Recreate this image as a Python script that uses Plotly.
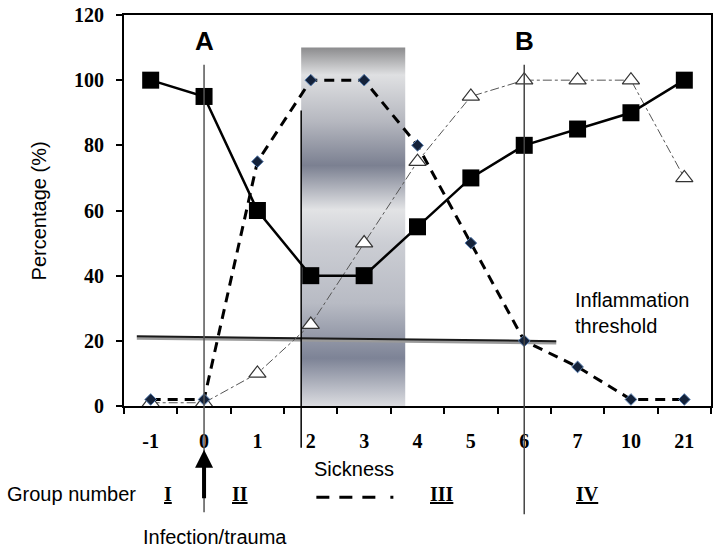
import plotly.graph_objects as go

# =============================================================================
# DATA
# =============================================================================

days = ["-1", "0", "1", "2", "3", "4", "5", "6", "7", "10", "21"]

square_vals = [100, 95, 60, 40, 40, 55, 70, 80, 85, 90, 100]
diamond_vals = [2, 2, 75, 100, 100, 80, 50, 20, 12, 2, 2]
triangle_vals = [1, 1, 10, 25, 50, 75, 95, 100, 100, 100, 70]

y_ticks = [0, 20, 40, 60, 80, 100, 120]

# gray "sickness" band and threshold line (axis units, x = category index)
band_x = [2.82, 4.77]
band_y = [-2, 110]
threshold_x = [-0.26, 7.6]
threshold_y = [21.4, 19.9]

xi = list(range(len(days)))

SERIF = "Liberation Serif"
SANS = "Liberation Sans"

# =============================================================================
# FIGURE
# =============================================================================

fig = go.Figure()

# gradient band
band_scale = [
    [0.0, "#e2e3e6"], [0.025, "#dcdde1"], [0.156, "#7d8396"],
    [0.306, "#b8bbc4"], [0.47, "#ccced4"], [0.56, "#e2e3e5"],
    [0.68, "#7b8091"], [0.798, "#b5b7bf"], [0.926, "#dfe0e2"],
    [1.0, "#8c8c8e"],
]
fig.add_trace(go.Scatter(
    x=[band_x[0], band_x[1], band_x[1], band_x[0], band_x[0]],
    y=[band_y[0], band_y[0], band_y[1], band_y[1], band_y[0]],
    mode="lines", fill="toself", line=dict(width=0),
    fillgradient=dict(type="vertical", colorscale=band_scale,
                      start=band_y[0], stop=band_y[1]),
    hoverinfo="skip", showlegend=False,
))

# threshold line with a soft shadow
fig.add_trace(go.Scatter(x=threshold_x, y=[v - 0.6 for v in threshold_y], mode="lines",
                         line=dict(color="#9a9a9a", width=3), hoverinfo="skip", showlegend=False))
fig.add_trace(go.Scatter(x=threshold_x, y=threshold_y, mode="lines",
                         line=dict(color="#1a1a1a", width=2), hoverinfo="skip", showlegend=False))

fig.add_trace(go.Scatter(
    x=xi, y=triangle_vals, mode="lines+markers",
    line=dict(color="#555555", width=1, dash="dashdot"),
    marker=dict(symbol="triangle-up", size=15, color="white",
                line=dict(color="#333333", width=1.2)),
    showlegend=False,
))

fig.add_trace(go.Scatter(
    x=xi, y=diamond_vals, mode="lines+markers",
    line=dict(color="black", width=3, dash="10px,7px"),
    marker=dict(symbol="diamond", size=9, color="#14223a",
                line=dict(color="#5a7fb0", width=1)),
    showlegend=False,
))

fig.add_trace(go.Scatter(
    x=xi, y=square_vals, mode="lines+markers",
    line=dict(color="black", width=2.5),
    marker=dict(symbol="square", size=17, color="black"),
    showlegend=False,
))

# vertical marker lines A / band edge / B
fig.add_shape(type="line", xref="x", yref="paper", x0=1, x1=1, y0=0.873, y1=-0.272,
              line=dict(color="#555555", width=1.5))
fig.add_shape(type="line", xref="x", yref="paper", x0=band_x[0], x1=band_x[0], y0=0.756, y1=-0.107,
              line=dict(color="black", width=1.5))
fig.add_shape(type="line", xref="x", yref="paper", x0=7, x1=7, y0=0.873, y1=-0.277,
              line=dict(color="#444444", width=1.5))

# group dashes between II and III
fig.add_shape(type="line", xref="paper", yref="paper", x0=0.3277, x1=0.4635, y0=-0.2335, y1=-0.2335,
              line=dict(color="black", width=3, dash="13px,10px,13px,10px,13px,15px,3px"))

# arrow for infection/trauma
fig.add_annotation(x=1, y=-0.1117, xref="x", yref="paper", text="", showarrow=True,
                   ax=0, ay=50, arrowhead=2, arrowsize=0.9, arrowwidth=4, arrowcolor="black")


def label(x, y, text, xref="paper", size=20, family=SANS, xanchor="center", **kw):
    fig.add_annotation(x=x, y=y, xref=xref, yref="paper", text=text, showarrow=False,
                       xanchor=xanchor, yanchor="middle",
                       font=dict(family=family, size=size, color="black"), **kw)


label(1, 0.934, "<b>A</b>", xref="x", size=26)
label(7, 0.934, "<b>B</b>", xref="x", size=26)
label(-0.145, 0.5, "Percentage (%)", textangle=-90)
label(0.392, -0.162, "Sickness")
label(-0.202, -0.226, "Group number", xanchor="left")
label(0.1545, -0.335, "Infection/trauma")
label(0.7657, 0.2386, "Inflammation<br>threshold", xanchor="left", align="left")

groups = ["I", "II", "III", "IV"]
group_pos = [0.0747, 0.197, 0.5416, 0.789]
for g, px in zip(groups, group_pos):
    label(px, -0.226, f"<b><u>{g}</u></b>", family=SERIF)

fig.update_layout(
    width=717, height=547,
    margin=dict(l=124, r=4, t=12, b=141),
    plot_bgcolor="white", paper_bgcolor="white",
    showlegend=False,
)

fig.update_xaxes(
    range=[-0.5, 10.5], tickmode="array", tickvals=xi, ticktext=days,
    ticks="", showgrid=False, zeroline=False,
    showline=True, linecolor="black", linewidth=2, mirror=True,
    tickfont=dict(family=SERIF, size=20, color="black", weight="bold"),
    ticklabelstandoff=16,
    minor=dict(tickmode="array", tickvals=[v - 0.5 for v in xi] + [10.5],
               ticks="outside", ticklen=6, tickwidth=1.5, tickcolor="black"),
)
fig.update_yaxes(
    range=[0, 120], tickmode="array", tickvals=y_ticks,
    ticks="outside", ticklen=6, tickwidth=1.5, tickcolor="black",
    showgrid=False, zeroline=False,
    showline=True, linecolor="black", linewidth=2, mirror=True,
    tickfont=dict(family=SERIF, size=20, color="black", weight="bold"),
    ticklabelstandoff=8, ticklabeloverflow="allow",
)

# the page body has a default 8px margin; drop it so the figure fills the window
fig.write_html("out.html", config={"displayModeBar": False},
               post_script="document.body.style.margin = '0';")
